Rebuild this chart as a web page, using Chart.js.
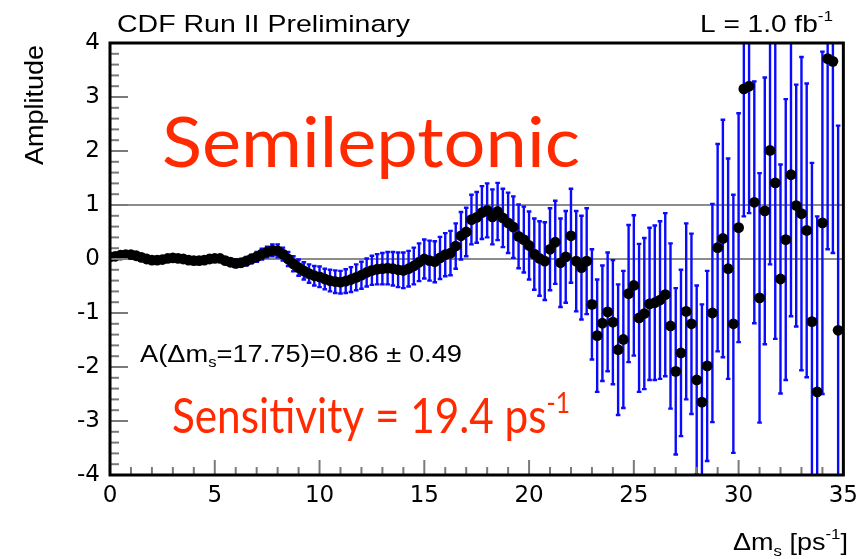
<!DOCTYPE html>
<html><head><meta charset="utf-8">
<script src="https://cdn.jsdelivr.net/npm/chart.js@4/dist/chart.umd.min.js"></script>
<style>html,body{margin:0;padding:0;background:#fff;overflow:hidden}#wrap{position:relative;width:865px;height:559px}</style>
</head><body><div id="wrap"><canvas id="c" width="865" height="559"></canvas></div>
<script>
// Delta m_s values (ps^-1)
const deltaMs = [
 0,0.25,0.5,0.75,1,1.25,1.5,1.75,2,2.25,2.5,2.75,3,3.25,3.5,3.75,4,4.25,4.5,4.75,
 5,5.25,5.5,5.75,6,6.25,6.5,6.75,7,7.25,7.5,7.75,8,8.25,8.5,8.75,9,9.25,9.5,9.75,
 10,10.25,10.5,10.75,11,11.25,11.5,11.75,12,12.25,12.5,12.75,13,13.25,13.5,13.75,14,14.25,14.5,14.75,
 15,15.25,15.5,15.75,16,16.25,16.5,16.75,17,17.25,17.5,17.75,18,18.25,18.5,18.75,19,19.25,19.5,19.75,
 20,20.25,20.5,20.75,21,21.25,21.5,21.75,22,22.25,22.5,22.75,23,23.25,23.5,23.75,24,24.25,24.5,24.75,
 25,25.25,25.5,25.75,26,26.25,26.5,26.75,27,27.25,27.5,27.75,28,28.25,28.5,28.75,29,29.25,29.5,29.75,
 30,30.25,30.5,30.75,31,31.25,31.5,31.75,32,32.25,32.5,32.75,33,33.25,33.5,33.75,34,34.25,34.5,34.75
];
// Fitted amplitude
const amplitude = [
 0.04,0.05,0.07,0.08,0.08,0.06,0.03,0.00,-0.02,-0.02,-0.01,0.01,0.02,0.01,0.00,-0.02,-0.03,-0.03,-0.02,0.00,
 0.01,0.01,-0.03,-0.06,-0.08,-0.07,-0.04,0.00,0.04,0.09,0.13,0.16,0.15,0.09,0.00,-0.09,-0.16,-0.22,-0.27,-0.31,
 -0.33,-0.37,-0.40,-0.42,-0.43,-0.41,-0.38,-0.34,-0.30,-0.25,-0.21,-0.19,-0.18,-0.17,-0.18,-0.20,-0.21,-0.18,-0.13,-0.06,
 0.00,-0.03,-0.05,0.02,0.08,0.11,0.24,0.43,0.50,0.73,0.77,0.86,0.90,0.78,0.88,0.76,0.67,0.59,0.42,0.36,
 0.25,0.09,0.01,-0.04,0.18,0.31,-0.07,0.04,0.43,-0.04,-0.16,-0.04,-0.84,-1.42,-1.19,-0.98,-1.17,-1.68,-1.49,-0.64,
 -0.49,-1.09,-1.01,-0.83,-0.81,-0.76,-0.66,-1.24,-2.08,-1.74,-0.97,-1.20,-2.24,-2.65,-1.98,-1.00,0.21,0.38,-0.18,-1.20,
 0.58,3.15,3.20,1.05,-0.72,0.89,2.01,1.41,-0.37,0.36,1.56,0.99,0.84,0.53,-1.16,-2.46,0.67,3.71,3.66,-1.32
];
// Amplitude uncertainty (1 sigma)
const amplitudeError = [
 0.02,0.02,0.02,0.02,0.02,0.02,0.02,0.02,0.03,0.03,0.03,0.03,0.03,0.03,0.03,0.03,0.04,0.04,0.04,0.04,
 0.05,0.05,0.06,0.06,0.07,0.07,0.08,0.08,0.09,0.10,0.10,0.11,0.12,0.12,0.13,0.14,0.15,0.16,0.17,0.18,
 0.19,0.19,0.20,0.21,0.21,0.22,0.23,0.24,0.25,0.26,0.27,0.28,0.29,0.30,0.31,0.32,0.33,0.33,0.34,0.35,
 0.36,0.37,0.38,0.39,0.40,0.41,0.42,0.44,0.45,0.46,0.47,0.49,0.50,0.51,0.53,0.54,0.56,0.57,0.59,0.61,
 0.63,0.66,0.69,0.72,0.76,0.77,0.82,0.85,0.87,0.93,0.96,0.98,1.02,1.04,1.07,1.10,1.15,1.21,1.27,1.27,
 1.30,1.37,1.40,1.41,1.43,1.46,1.51,1.53,1.54,1.54,1.63,1.67,1.75,1.81,1.76,2.02,1.92,2.20,2.04,2.39,
 2.12,2.36,2.35,2.24,2.31,2.47,2.11,2.89,2.12,2.60,2.62,2.24,2.90,2.72,2.94,3.25,3.17,3.53,3.55,3.79
];
const xTickValues = [0,5,10,15,20,25,30,35];
const yTickValues = [-4,-3,-2,-1,0,1,2,3,4];
const referenceLines = [0,1];

function drawParts(ctx, parts, x, baseline, targetWidth){
  let total = 0;
  parts.forEach(p=>{ctx.font=p.font; p.w=ctx.measureText(p.t).width; total+=p.w;});
  const sx = targetWidth/total;
  ctx.save();
  ctx.translate(x, baseline);
  ctx.scale(sx,1);
  ctx.textBaseline='alphabetic'; ctx.textAlign='left';
  let cx=0;
  parts.forEach(p=>{ctx.font=p.font; ctx.fillStyle=p.c||'#000'; ctx.fillText(p.t,cx,p.dy||0); cx+=p.w;});
  ctx.restore();
}

const errorBars = {
  id:'errorBars',
  beforeDatasetsDraw(chart){
    const {ctx, chartArea:a, scales:{x,y}} = chart;
    ctx.save();
    ctx.beginPath(); ctx.rect(a.left,a.top,a.right-a.left,a.bottom-a.top); ctx.clip();
    ctx.strokeStyle='#8c8c8c'; ctx.lineWidth=2;
    referenceLines.forEach(v=>{const py=y.getPixelForValue(v);ctx.beginPath();ctx.moveTo(a.left,py);ctx.lineTo(a.right,py);ctx.stroke();});
    ctx.strokeStyle='#0a0aff'; ctx.lineWidth=2.4;
    deltaMs.forEach((xv,i)=>{
      const px=x.getPixelForValue(xv);
      const yt=y.getPixelForValue(amplitude[i]+amplitudeError[i]);
      const yb=y.getPixelForValue(amplitude[i]-amplitudeError[i]);
      ctx.beginPath();
      ctx.moveTo(px,yt);ctx.lineTo(px,yb);
      ctx.moveTo(px-2.3,yt);ctx.lineTo(px+2.3,yt);
      ctx.moveTo(px-2.3,yb);ctx.lineTo(px+2.3,yb);
      ctx.stroke();
    });
    ctx.restore();
  }
};

const frameAndText = {
  id:'frameAndText',
  afterDraw(chart){
    const {ctx, chartArea:a, scales:{x,y}} = chart;
    ctx.save();
    // ticks
    ctx.strokeStyle='#7a7a7a'; ctx.lineWidth=2;
    for(let k=-20;k<=20;k++){
      const v=k/5; const py=y.getPixelForValue(v);
      const len = (k%5===0)?18:9;
      ctx.beginPath();ctx.moveTo(a.left,py);ctx.lineTo(a.left+len,py);ctx.stroke();
    }
    for(let v=0;v<=35;v++){
      const px=x.getPixelForValue(v);
      const len=(v%5===0)?15:8;
      ctx.beginPath();ctx.moveTo(px,a.bottom);ctx.lineTo(px,a.bottom-len);ctx.stroke();
    }
    // frame
    ctx.strokeStyle='#000'; ctx.lineWidth=3;
    ctx.strokeRect(a.left,a.top,a.right-a.left,a.bottom-a.top);
    // texts
    const H='"Liberation Sans", Arial, sans-serif';
    const G='Lato, "Open Sans", sans-serif';
    drawParts(ctx,[{t:'CDF Run II Preliminary',font:'24.5px '+H}],117,31.5,293);
    drawParts(ctx,[{t:'L = 1.0 fb',font:'24.5px '+H},{t:'-1',font:'15px '+H,dy:-11}],700,32,133);
    drawParts(ctx,[{t:'A(\u0394m',font:'23px '+H},{t:'s',font:'14px '+H,dy:5},{t:'=17.75)=0.86 \u00b1 0.49',font:'23px '+H}],140,362,322);
    drawParts(ctx,[{t:'\u0394m',font:'24px '+H},{t:'s',font:'15px '+H,dy:6},{t:' [ps',font:'24px '+H},{t:'-1',font:'15px '+H,dy:-11},{t:']',font:'24px '+H}],733,550,115);
    drawParts(ctx,[{t:'Semileptonic',font:'70px '+G,c:'#ff2a00'}],162,167,418);
    drawParts(ctx,[{t:'Sensitivity = 19.4 ps',font:'48px '+G,c:'#ff2a00'},{t:'-1',font:'28px '+G,c:'#ff2a00',dy:-20}],172,433,398);
    // rotated y title
    ctx.translate(43,45); ctx.rotate(-Math.PI/2);
    ctx.font='26px '+H; ctx.fillStyle='#000';
    const w=ctx.measureText('Amplitude').width;
    ctx.scale(120/w,1);
    ctx.textAlign='right'; ctx.textBaseline='alphabetic';
    ctx.fillText('Amplitude',0,0);
    ctx.restore();
  }
};

const tickFont={family:'"DejaVu Sans", sans-serif',size:23};
new Chart(document.getElementById('c'),{
  type:'scatter',
  data:{datasets:[{
    data:deltaMs.map((v,i)=>({x:v,y:amplitude[i]})),
    pointRadius:5.4, pointHoverRadius:5.4, backgroundColor:'#000', borderWidth:0, showLine:false
  }]},
  options:{
    responsive:false, animation:false, devicePixelRatio:1,
    layout:{padding:{top:43,right:17,bottom:0,left:0}},
    plugins:{legend:{display:false},tooltip:{enabled:false},title:{display:false}},
    scales:{
      x:{type:'linear',min:0,max:35,
        afterBuildTicks(s){s.ticks=xTickValues.map(v=>({value:v}));},
        ticks:{font:tickFont,color:'#000',padding:7,maxRotation:0,autoSkip:false},
        grid:{display:false,drawTicks:false},border:{display:false},
        afterFit(s){s.height=84;}},
      y:{type:'linear',min:-4,max:4,
        afterBuildTicks(s){s.ticks=yTickValues.map(v=>({value:v}));},
        ticks:{font:tickFont,color:'#000',padding:10,autoSkip:false},
        grid:{display:false,drawTicks:false},border:{display:false},
        afterFit(s){s.width=110;}}
    }
  },
  plugins:[errorBars,frameAndText]
});
</script></body></html>
